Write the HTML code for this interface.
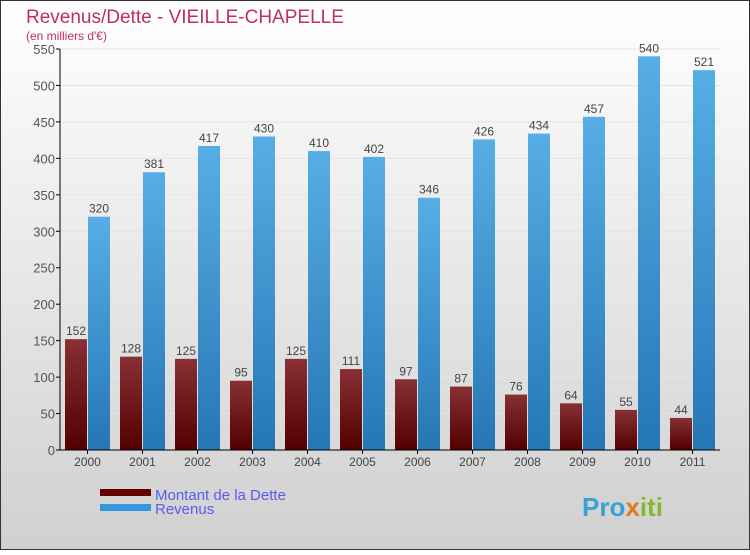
<!DOCTYPE html>
<html><head><meta charset="utf-8"><style>
body{margin:0}
#c{width:750px;height:550px;position:relative;font-family:"Liberation Sans",sans-serif}
</style></head><body>
<div id="c">
<svg id="s" width="750" height="550" xmlns="http://www.w3.org/2000/svg">
<defs>
<linearGradient id="bg" x1="0" y1="0" x2="0" y2="1"><stop offset="0" stop-color="#ffffff"/><stop offset="1" stop-color="#d0d0d0"/></linearGradient>
<linearGradient id="gd" x1="0" y1="0" x2="0" y2="1"><stop offset="0" stop-color="#883034"/><stop offset="1" stop-color="#520000"/></linearGradient>
<linearGradient id="gr" x1="0" y1="0" x2="0" y2="1"><stop offset="0" stop-color="#57aee6"/><stop offset="1" stop-color="#2577b4"/></linearGradient>
</defs>
<rect x="0.5" y="0.5" width="749" height="549" fill="url(#bg)" stroke="#333"/>
<text x="26" y="23" font-size="19" fill="#c0305f">Revenus/Dette - VIEILLE-CHAPELLE</text>
<text x="26" y="40" font-size="12" fill="#c0305f">(en milliers d'€)</text>
<g id="plot"></g>
<rect x="100" y="489" width="51" height="7" fill="#650000"/>
<text x="155" y="500" font-size="15" fill="#5a5af0">Montant de la Dette</text>
<rect x="100" y="504" width="51" height="7" fill="#3498dd"/>
<text x="155" y="514" font-size="15" fill="#5a5af0">Revenus</text>
<text x="582" y="516" font-size="26" font-weight="bold" fill="#3aa0d8">Pro<tspan fill="#e07a20">x</tspan><tspan fill="#80b830">iti</tspan></text>
</svg></div>
<script>
const years=["2000","2001","2002","2003","2004","2005","2006","2007","2008","2009","2010","2011"];
const dette=[152,128,125,95,125,111,97,87,76,64,55,44];
const revenus=[320,381,417,430,410,402,346,426,434,457,540,521];
const ticks=[0,50,100,150,200,250,300,350,400,450,500,550];
const NS="http://www.w3.org/2000/svg";
const g=document.getElementById('plot');
const x0=60,x1=720,yB=450,yT=49,vmax=550;
const y=v=>yB-(v/vmax)*(yB-yT);
const step=(x1-x0)/years.length;
function mk(t,a,txt){const e=document.createElementNS(NS,t);for(const k in a)e.setAttribute(k,a[k]);if(txt!==undefined)e.textContent=txt;g.appendChild(e);return e;}
ticks.forEach(t=>{
 const l=mk('line',{x1:x0,x2:x1,y1:y(t),y2:y(t),stroke:'#e4e4e4'});
 
 
 const k=mk('line',{x1:x0-4,x2:x0,y1:y(t),y2:y(t),stroke:'#000'});
 
 
 const tx=mk('text',{x:x0-5,y:y(t)+5,'font-size':13,fill:'#555','text-anchor':'end'},t);
 
 
});
years.forEach((yr,i)=>{
 const gx=x0+step*i+5;
 const bw=22;
 [[dette[i],'url(#gd)',gx,'bar-dette'],[revenus[i],'url(#gr)',gx+bw+1,'bar-revenus']].forEach(([v,f,bx,n])=>{
  const r=mk('rect',{x:bx,y:y(v),width:bw,height:yB-y(v),fill:f});
  
  
  const t=mk('text',{x:bx+bw/2,y:y(v)-4,'font-size':12,fill:'#444','text-anchor':'middle'},v);
  
  
 });
 const c=x0+step*i+step/2;
 const tk=mk('line',{x1:c,x2:c,y1:yB,y2:yB+4,stroke:'#000'});
 
 
 const xl=mk('text',{x:c,y:yB+16,'font-size':12,fill:'#444','text-anchor':'middle'},yr);
 
 
});
const ax=mk('line',{x1:x0,x2:x0,y1:yT,y2:yB,stroke:'#000'});


const bx=mk('line',{x1:x0,x2:x1,y1:yB,y2:yB,stroke:'#000'});


</script>
</body></html>
